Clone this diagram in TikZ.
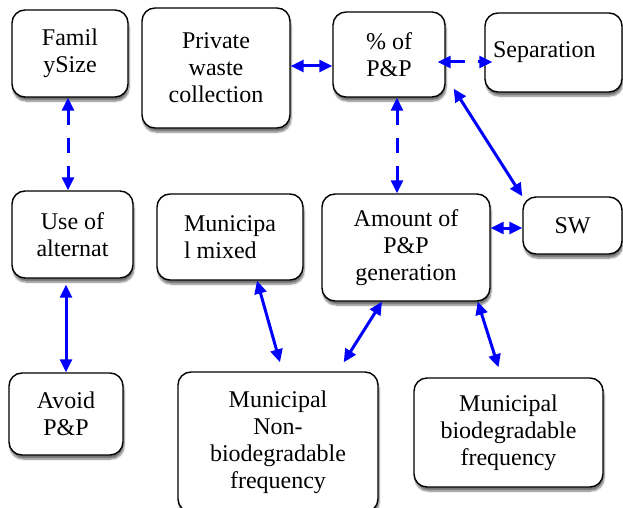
\documentclass[tikz,border=0pt]{standalone}
\usepackage{fontspec}
\setmainfont{Liberation Serif}
\usetikzlibrary{arrows.meta,shadows.blur}
\tikzset{
  wbox/.style  = {shape=rectangle, rounded corners=13pt,
                  draw, line width=1.4pt, fill=white, align=center,
                  inner sep=4pt,
                  blur shadow={shadow xshift=1pt, shadow yshift=-4pt,
                               shadow opacity=55, shadow blur steps=6}},
  link/.style  = {draw=blue, line width=3pt,
                  {Triangle[length=13pt,width=12pt]}-{Triangle[length=13pt,width=12pt]}},
  dlink/.style = {link, dash pattern=on 15pt off 13pt}
}

\begin{document}
\begin{tikzpicture}
  [
    x = 1pt, y = -1pt,
    every node/.style = {font=\fontsize{24}{27}\selectfont}
  ]
  \useasboundingbox (0,0) rectangle (623,508);
  \node [wbox, minimum width=116pt, minimum height=87pt]  (fam)    at (70,53.5)    {Famil\\ySize};
  \node [wbox, minimum width=148pt, minimum height=120pt] (priv)   at (216,68)     {Private\\waste\\collection};
  \node [wbox, minimum width=112pt, minimum height=85pt]  (pct)    at (389,54.5)   {\% of\\P\&P};
  \node [wbox, text width=121pt, inner xsep=8pt, align=left,
         minimum height=79pt]                             (sep)    at (553.5,52.5) {Separation};
  \node [wbox, minimum width=121pt, minimum height=87pt]  (use)    at (72.5,234.5) {Use of\\alternat};
  \node [wbox, align=left, minimum width=146pt,
         minimum height=86pt]                             (mix)    at (230,237)    {Municipa\\l mixed};
  \node [wbox, minimum width=168pt, minimum height=107pt] (amt)    at (406,247.5)  {Amount of\\P\&P\\generation};
  \node [wbox, minimum width=99pt, minimum height=57pt]   (sw)     at (572.5,225.5){SW};
  \node [wbox, minimum width=114pt, minimum height=82pt]  (avoid)  at (66,414)     {Avoid\\P\&P};
  \node [wbox, minimum width=200pt, minimum height=140pt] (nonbio) at (278,442)    {Municipal\\Non-\\biodegradable\\frequency};
  \node [wbox, minimum width=189pt, minimum height=109pt] (bio)    at (508.5,432.5){Municipal\\biodegradable\\frequency};

  \draw [dlink] ([xshift=-2pt]fam.south) -- ([xshift=-2pt]fam.south |- use.north);
  \draw [link, shorten <=6pt] (use.south -| avoid.north) -- (avoid.north);
  \draw [link] ([yshift=2pt]priv.east) -- ([yshift=2pt]priv.east -| pct.west);
  \draw [dlink, shorten <=-8pt, shorten >=-8pt] ([yshift=-7.5pt]pct.east) -- ([yshift=-7.5pt]pct.east -| sep.west);
  \draw [dlink] ([xshift=8pt]pct.south) -- ([xshift=8pt]pct.south |- amt.north);
  \draw [link] ([shift={(8pt,9pt)}]pct.south east) -- (sw.north west);
  \draw [link] ([yshift=-2.5pt]sw.west -| amt.east) -- ([yshift=-2.5pt]sw.west);
  \draw [link] ([xshift=27pt]mix.south) -- ([shift={(2pt,9pt)}]nonbio.north);
  \draw [link] ([xshift=-24pt]amt.south) -- ([shift={(-35pt,9pt)}]nonbio.north east);
  \draw [link] ([xshift=-13pt]amt.south east) -- ([shift={(-10pt,10pt)}]bio.north);
\end{tikzpicture}
\end{document}
